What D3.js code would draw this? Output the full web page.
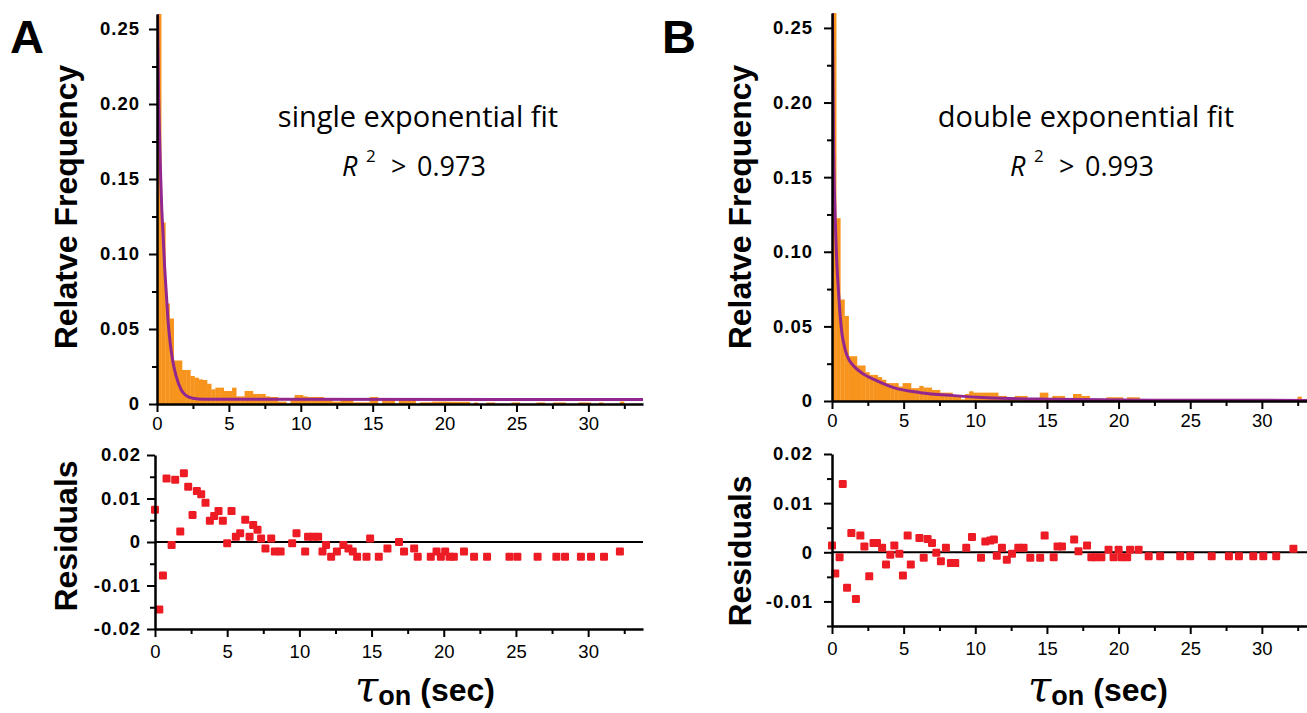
<!DOCTYPE html>
<html lang="en">
  <head>
    <meta charset="UTF-8" />
    <title>Dwell time histograms</title>
    <script src="https://cdn.jsdelivr.net/npm/d3@7"></script>
    <style>
      body { margin: 0; background: #fff; }
      svg { display: block; }
    </style>
  </head>
  <body>
    <svg width="1307" height="713"></svg>
    <script>
      // histogram bins (sec), relative frequency per bin
      const binWidth = 0.29;
      const histA = [
        0.26, 0.121, 0.067, 0.057, 0.029, 0.029, 0.0227, 0.0227, 0.0187, 0.0175,
        0.0164, 0.016, 0.0135, 0.0098, 0.0109, 0.0109, 0.0087, 0.0087, 0.0109, 0.0051,
        0.0051, 0.0087, 0.0087, 0.0067, 0.0067, 0.0067, 0.0051, 0.0047, 0.0047, 0.0016,
        0.0016, 0, 0.0027, 0.006, 0.006, 0.0051, 0.0047, 0.0047, 0.0047, 0.0047,
        0.0031, 0.0031, 0.0016, 0.0016, 0.0027, 0.0027, 0.0027, 0.0011, 0.0011, 0.0011,
        0.0011, 0.0047, 0.0047, 0, 0.003, 0.003, 0.003, 0, 0.003, 0.003,
        0.0027, 0.0027, 0, 0.0011, 0.0011, 0.0011, 0.0016, 0.0016, 0.0016, 0.0016,
        0.0015, 0.0015, 0.0015, 0.0015, 0.0015, 0, 0.001, 0, 0, 0.001,
        0.001, 0, 0, 0, 0, 0.001, 0.001, 0, 0, 0,
        0, 0.001, 0.001, 0, 0, 0.001, 0.001, 0.001, 0, 0,
        0, 0.001, 0.001, 0.001, 0, 0, 0.001, 0, 0, 0,
        0, 0.0016
      ];
      const histB = [
        0.26, 0.1225, 0.068, 0.057, 0.03, 0.03, 0.0238, 0.0238, 0.0193, 0.0175,
        0.0175, 0.016, 0.0142, 0.012, 0.012, 0.012, 0.0097, 0.012, 0.012, 0.0086,
        0.0086, 0.0101, 0.009, 0.009, 0.0074, 0.0074, 0.0056, 0.0056, 0.0056, 0.0029,
        0.0029, 0.0011, 0.0047, 0.0065, 0.0056, 0.0056, 0.0056, 0.0056, 0.0056, 0.0056,
        0.0034, 0.0034, 0.0025, 0.0025, 0.0034, 0.0034, 0.0034, 0.0018, 0.0018, 0.0018,
        0.0056, 0.0056, 0.0018, 0.0034, 0.0034, 0.0034, 0.0018, 0.0018, 0.0047, 0.0047,
        0.0034, 0.0034, 0.0011, 0.0011, 0.0011, 0.0011, 0.0025, 0.0025, 0.0025, 0.0025,
        0, 0.0025, 0.0025, 0.0025, 0.0011, 0.0011, 0.0011, 0.0011, 0.0011, 0.0011,
        0.0011, 0.0011, 0.0011, 0, 0, 0, 0, 0, 0, 0,
        0, 0, 0, 0, 0, 0, 0, 0, 0, 0,
        0, 0, 0, 0, 0, 0, 0, 0, 0, 0,
        0, 0, 0.0029
      ];

      // fitted curves, [sec, frequency]
      const fitA = [
        [0, 0.29], [0.116, 0.203], [0.185, 0.176], [0.255, 0.152], [0.324, 0.132],
        [0.417, 0.114], [0.53, 0.0916], [0.648, 0.0738], [0.764, 0.056], [0.926, 0.04],
        [1.11, 0.028], [1.34, 0.0182], [1.69, 0.0093], [2.04, 0.0055], [2.5, 0.0038],
        [3.2, 0.0031], [34, 0.003]
      ];
      const fitB = [
        [0, 0.29], [0.116, 0.168], [0.233, 0.12], [0.349, 0.09], [0.465, 0.0718],
        [0.58, 0.056], [0.7, 0.0449], [0.81, 0.039], [0.93, 0.034], [1.16, 0.028],
        [1.51, 0.0235], [2.2, 0.018], [3.14, 0.0135], [4.3, 0.009], [6.16, 0.0056],
        [8.5, 0.0036], [10.8, 0.0022], [15.5, 0.0011], [22.4, 0.0005], [33.2, 0.0004]
      ];

      // residuals, [sec, residual]
      const residA = [
        [0, 0.0074], [0.3, -0.0155], [0.55, -0.0077], [0.8, 0.0146], [1.15, -0.0007],
        [1.4, 0.0143], [1.75, 0.0024], [2.0, 0.0158], [2.3, 0.0127], [2.6, 0.0062],
        [2.9, 0.0117], [3.2, 0.011], [3.5, 0.009], [3.8, 0.0049], [4.1, 0.006],
        [4.4, 0.0071], [4.7, 0.0049], [5.0, -0.0003], [5.3, 0.0071], [5.6, 0.0012],
        [5.9, 0.002], [6.25, 0.0051], [6.55, 0.0012], [6.8, 0.0039], [7.1, 0.0028],
        [7.35, 0.0008], [7.65, -0.0015], [8.05, 0.0008], [8.3, -0.0022], [8.7, -0.0022],
        [9.5, -0.0003], [9.8, 0.002], [10.4, -0.0022], [10.6, 0.0012], [10.95, 0.0012],
        [11.3, 0.0012], [11.6, -0.0022], [11.85, -0.0007], [12.2, -0.0034], [12.6, -0.0022],
        [13.05, -0.0007], [13.4, -0.0015], [13.7, -0.0022], [14.0, -0.0034], [14.65, -0.0034],
        [14.9, 0.0008], [15.5, -0.0034], [16.1, -0.0015], [16.9, 0], [17.25, -0.0022],
        [17.95, -0.0015], [18.2, -0.0034], [19.1, -0.0034], [19.5, -0.0022], [19.8, -0.0034],
        [20.1, -0.0022], [20.4, -0.0034], [20.7, -0.0034], [21.4, -0.0022], [22.1, -0.0034],
        [23.0, -0.0034], [24.55, -0.0034], [25.1, -0.0034], [26.5, -0.0034], [27.8, -0.0034],
        [28.4, -0.0034], [29.5, -0.0034], [30.2, -0.0034], [31.1, -0.0034], [32.2, -0.0022]
      ];
      const residB = [
        [0, 0.0014], [0.23, -0.0043], [0.53, -0.001], [0.75, 0.0139], [1.05, -0.0072],
        [1.35, 0.0039], [1.67, -0.0095], [1.98, 0.0034], [2.26, 0.0012], [2.6, -0.0049],
        [2.9, 0.0019], [3.14, 0.0019], [3.5, 0.0009], [3.77, -0.0025], [4.07, -0.0005],
        [4.35, 0.0014], [4.7, -0.0003], [4.95, -0.0047], [5.28, 0.0034], [5.5, -0.0025],
        [6.1, 0.0029], [6.4, -0.0011], [6.67, 0.0027], [6.98, 0.0019], [7.28, -0.0001],
        [7.6, -0.0018], [7.95, 0.0009], [8.3, -0.0022], [8.6, -0.0022], [9.37, 0.0009],
        [9.77, 0.0031], [10.4, -0.0011], [10.7, 0.0022], [11.05, 0.0024], [11.3, 0.0026],
        [11.5, -0.0007], [11.86, 0.0009], [12.2, -0.0015], [12.56, -0.0003], [13.0, 0.0009],
        [13.37, 0.0009], [13.84, -0.0011], [14.53, -0.0011], [14.84, 0.0034], [15.47, -0.001],
        [15.74, 0.0012], [16.05, 0.0012], [16.9, 0.0026], [17.2, 0.0002], [17.8, 0.0014],
        [18.1, -0.001], [18.4, -0.001], [18.8, -0.001], [19.3, 0.0005], [19.65, -0.001],
        [20.0, 0.0005], [20.2, -0.001], [20.6, -0.001], [20.8, 0.0005], [21.4, 0.0005],
        [22.1, -0.0008], [22.9, -0.0008], [24.3, -0.0008], [25.0, -0.0008], [26.5, -0.0008],
        [27.7, -0.0008], [28.4, -0.0008], [29.4, -0.0008], [30.1, -0.0008], [31.0, -0.0008],
        [32.2, 0.0007]
      ];

      // ticks
      const xTicks = [0, 5, 10, 15, 20, 25, 30];
      const xMinor = [2.5, 7.5, 12.5, 17.5, 22.5, 27.5, 32.5];
      const yTicksHist = [0, 0.05, 0.1, 0.15, 0.2, 0.25];
      const yLabelsHist = ["0", "0.05", "0.10", "0.15", "0.20", "0.25"];
      const yMinorHist = [0.025, 0.075, 0.125, 0.175, 0.225];
      const yTicksResA = [-0.02, -0.01, 0, 0.01, 0.02];
      const yLabelsResA = ["-0.02", "-0.01", "0", "0.01", "0.02"];
      const yMinorResA = [-0.015, -0.005, 0.005, 0.015];
      const yTicksResB = [-0.01, 0, 0.01, 0.02];
      const yLabelsResB = ["-0.01", "0", "0.01", "0.02"];
      const yMinorResB = [-0.015, -0.005, 0.005, 0.015];

      const fitTitles = ["single exponential fit", "double exponential fit"];
      const r2Values = ["0.973", "0.993"];

      const orange = "#f7941d", purple = "#92278f", red = "#ed1c24";
      const svg = d3.select("svg");
      const sansFont = "'Liberation Sans', Arial, sans-serif";

      function styleAxis(g, bold, spacing) {
        g.attr("font-family", sansFont).attr("font-size", 18.5);
        g.select(".domain").attr("stroke", "#000").attr("stroke-width", 2.5);
        g.selectAll(".tick line").attr("stroke", "#000").attr("stroke-width", 2);
        g.selectAll(".tick text").attr("fill", "#000")
          .attr("font-weight", bold ? "bold" : "normal")
          .style("letter-spacing", spacing + "px");
      }

      function minorAxis(g, axis) {
        g.call(axis.tickFormat("").tickSize(5).tickSizeOuter(0));
        g.select(".domain").remove();
        g.selectAll(".tick line").attr("stroke", "#000").attr("stroke-width", 2);
      }

      function drawPanel(p) {
        // ---- histogram ----
        const x = d3.scaleLinear().domain([0, p.xMax]).range([p.left, p.right]);
        const y = d3.scaleLinear().domain([0, 0.26]).range([p.histBottom, p.histTop]);
        const clipId = "clip" + p.key;
        svg.append("clipPath").attr("id", clipId).append("rect")
          .attr("x", p.left).attr("y", p.histTop)
          .attr("width", p.right - p.left).attr("height", p.histBottom - p.histTop);

        const bins = p.hist.map((v, i) => ({ x0: i * binWidth, x1: (i + 1) * binWidth, v }))
          .filter(d => d.v > 0);
        svg.append("g").attr("clip-path", `url(#${clipId})`)
          .selectAll("rect").data(bins).enter().append("rect")
          .attr("x", d => x(d.x0))
          .attr("width", d => x(d.x1) - x(d.x0) + 0.3)
          .attr("y", d => y(d.v))
          .attr("height", d => y(0) - y(d.v))
          .attr("fill", orange);

        const line = d3.line().x(d => x(d[0])).y(d => y(d[1])).curve(d3.curveMonotoneX);
        svg.append("path").datum(p.fit)
          .attr("clip-path", `url(#${clipId})`)
          .attr("d", line).attr("fill", "none")
          .attr("stroke", purple).attr("stroke-width", 3);

        const gx = svg.append("g").attr("transform", `translate(0,${p.histBottom})`);
        gx.call(d3.axisBottom(x).tickValues(xTicks).tickSize(8).tickSizeOuter(0).tickPadding(5));
        styleAxis(gx, false, 0);
        minorAxis(svg.append("g").attr("transform", `translate(0,${p.histBottom})`),
          d3.axisBottom(x).tickValues(xMinor));

        const gy = svg.append("g").attr("transform", `translate(${p.left},0)`);
        gy.call(d3.axisLeft(y).tickValues(yTicksHist).tickSize(8).tickSizeOuter(0)
          .tickPadding(p.histPad).tickFormat((d, i) => yLabelsHist[i]));
        styleAxis(gy, true, 1);
        minorAxis(svg.append("g").attr("transform", `translate(${p.left},0)`),
          d3.axisLeft(y).tickValues(yMinorHist));

        // ---- residuals ----
        const xr = d3.scaleLinear().domain([0, p.xMax]).range([p.resLeft, p.right]);
        const yr = d3.scaleLinear().domain(p.resDomain).range([p.resBottom, p.resTop]);

        svg.append("line")
          .attr("x1", xr(0)).attr("x2", p.right)
          .attr("y1", yr(0)).attr("y2", yr(0))
          .attr("stroke", "#000").attr("stroke-width", 2);

        svg.append("g").selectAll("rect").data(p.resid).enter().append("rect")
          .attr("x", d => xr(d[0]) - 4).attr("y", d => yr(d[1]) - 4)
          .attr("width", 8).attr("height", 8).attr("rx", 1.2)
          .attr("fill", red);

        const gxr = svg.append("g").attr("transform", `translate(0,${p.resBottom})`);
        gxr.call(d3.axisBottom(xr).tickValues(xTicks).tickSize(8).tickSizeOuter(0).tickPadding(8));
        styleAxis(gxr, false, 0);
        minorAxis(svg.append("g").attr("transform", `translate(0,${p.resBottom})`),
          d3.axisBottom(xr).tickValues(xMinor));

        const gyr = svg.append("g").attr("transform", `translate(${p.resLeft},0)`);
        gyr.call(d3.axisLeft(yr).tickValues(p.resTicks).tickSize(8).tickSizeOuter(0)
          .tickPadding(p.resPad).tickFormat((d, i) => p.resLabels[i]));
        styleAxis(gyr, true, 1);
        minorAxis(svg.append("g").attr("transform", `translate(${p.resLeft},0)`),
          d3.axisLeft(yr).tickValues(p.resMinor));

        // ---- texts ----
        svg.append("text").attr("x", p.letterX).attr("y", 53)
          .attr("font-family", sansFont).attr("font-weight", "bold").attr("font-size", 47)
          .text(p.key);

        svg.append("text")
          .attr("transform", `translate(${p.titleX},207) rotate(-90)`)
          .attr("text-anchor", "middle")
          .attr("font-family", sansFont).attr("font-weight", "bold").attr("font-size", 32)
          .text("Relatve Frequency");
        svg.append("text")
          .attr("transform", `translate(${p.titleX},${p.resTitleY}) rotate(-90)`)
          .attr("text-anchor", "middle")
          .attr("font-family", sansFont).attr("font-weight", "bold").attr("font-size", 32)
          .text("Residuals");

        const xt = svg.append("text").attr("x", p.xTitleX).attr("y", 701)
          .attr("text-anchor", "middle").attr("font-family", sansFont)
          .attr("font-weight", "bold").attr("font-size", 32);
        xt.append("tspan").attr("font-family", "'DejaVu Serif', serif")
          .attr("font-style", "italic").attr("font-weight", "normal").attr("font-size", 42)
          .text("τ");
        xt.append("tspan").attr("font-size", 27).attr("dy", 4).text("on");
        xt.append("tspan").attr("dy", -4).text(" (sec)");

        const fitFont = "'Open Sans', 'Noto Sans', sans-serif";
        svg.append("text").attr("x", p.fitX).attr("y", 127)
          .attr("text-anchor", "middle").attr("font-family", fitFont).attr("font-size", 29)
          .text(p.fitTitle);
        const r2 = svg.append("text").attr("font-family", fitFont).attr("font-size", 27);
        r2.append("tspan").attr("x", p.fitX - 76).attr("y", 176)
          .attr("font-style", "italic").text("R");
        r2.append("tspan").attr("x", p.fitX - 52).attr("y", 162)
          .attr("font-size", 17).text("2");
        r2.append("tspan").attr("x", p.fitX - 27).attr("y", 176).text(">");
        r2.append("tspan").attr("x", p.fitX - 1).attr("y", 176).text(p.r2);
      }

      drawPanel({
        key: "A", hist: histA, fit: fitA, resid: residA,
        left: 157, right: 643, resLeft: 155, xMax: 33.8,
        histTop: 14, histBottom: 404, histPad: 9,
        resTop: 455, resBottom: 629, resDomain: [-0.02, 0.02], resPad: 6,
        resTicks: yTicksResA, resLabels: yLabelsResA, resMinor: yMinorResA,
        letterX: 10, titleX: 77, resTitleY: 536, xTitleX: 425,
        fitX: 418, fitTitle: fitTitles[0], r2: r2Values[0]
      });
      drawPanel({
        key: "B", hist: histB, fit: fitB, resid: residB,
        left: 832, right: 1307, resLeft: 832, xMax: 33.15,
        histTop: 13, histBottom: 401, histPad: 11,
        resTop: 454, resBottom: 626, resDomain: [-0.015, 0.02], resPad: 11,
        resTicks: yTicksResB, resLabels: yLabelsResB, resMinor: yMinorResB,
        letterX: 662, titleX: 751, resTitleY: 551, xTitleX: 1098,
        fitX: 1086, fitTitle: fitTitles[1], r2: r2Values[1]
      });
    </script>
  </body>
</html>
